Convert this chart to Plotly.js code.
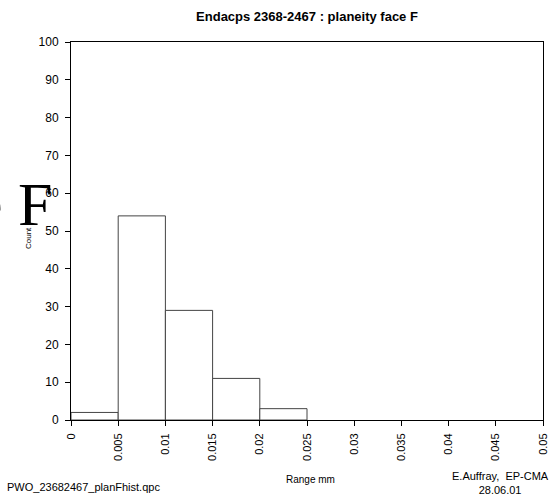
<!DOCTYPE html>
<html><head><meta charset="utf-8">
<script src="https://cdn.plot.ly/plotly-3.0.1.min.js"></script>
<style>html,body{margin:0;padding:0;background:#fff}#c{width:555px;height:497px}</style>
</head><body><div id="c"></div>
<script>
const binCenters = [0.0025, 0.0075, 0.0125, 0.0175, 0.0225];
const counts = [2, 54, 29, 11, 3];
const tickVals = [0,0.005,0.01,0.015,0.02,0.025,0.03,0.035,0.04,0.045,0.05];
const tickText = ['0','0.005','0.01','0.015','0.02','0.025','0.03','0.035','0.04','0.045','0.05'];

const L=71,R=12,T=42,B=77,W=555,H=497;
const pw=W-L-R, ph=H-T-B;
function px(x){return (x-L)/pw;}
function py(y){return (H-B-y)/ph;}

const data=[{type:'bar',x:binCenters,y:counts,width:0.005,
  marker:{color:'#ffffff',line:{color:'#444',width:1}},hoverinfo:'none'}];
const layout={
  width:W,height:H,margin:{l:L,r:R,t:T,b:B},
  paper_bgcolor:'#fff',plot_bgcolor:'#fff',showlegend:false,
  font:{family:'Liberation Sans, Arial',size:12,color:'#000'},
  title:{text:'<b>Endacps 2368-2467 : planeity face F</b>',font:{size:13,family:'Liberation Sans, Arial'},x:0.5,xref:'paper',y:1-16/H,yanchor:'middle'},
  xaxis:{range:[0,0.05],tickvals:tickVals,ticktext:tickText,tickangle:-90,ticks:'outside',ticklen:5,tickcolor:'#000',
    showline:true,linecolor:'#000',linewidth:1,mirror:true,showgrid:false,zeroline:false,tickfont:{size:11},ticklabelstandoff:3},
  yaxis:{range:[0,100],dtick:10,ticks:'outside',ticklen:5,tickcolor:'#000',showline:true,linecolor:'#000',linewidth:1,
    mirror:true,showgrid:false,zeroline:false,tickfont:{size:12},ticklabelstandoff:4},
  annotations:[
    {xref:'paper',yref:'paper',x:px(55),y:py(204),xanchor:'right',yanchor:'middle',showarrow:false,
     text:'e F',font:{family:'Liberation Serif, Times New Roman',size:62,color:'#000'}},
    {xref:'paper',yref:'paper',x:px(28),y:py(238),xanchor:'center',yanchor:'middle',showarrow:false,textangle:-90,
     text:'Count',font:{size:8}},
    {xref:'paper',yref:'paper',x:px(5),y:py(487),xanchor:'left',yanchor:'middle',showarrow:false,
     text:'PWO_23682467_planFhist.qpc',font:{size:11}},
    {xref:'paper',yref:'paper',x:px(310),y:py(480),xanchor:'center',yanchor:'middle',showarrow:false,
     text:'Range mm',font:{size:10}},
    {xref:'paper',yref:'paper',x:px(500),y:py(483),xanchor:'center',yanchor:'middle',showarrow:false,
     text:'E.Auffray,  EP-CMA<br>28.06.01',font:{size:11}}
  ]
};
Plotly.newPlot('c',data,layout,{staticPlot:true});
</script></body></html>
